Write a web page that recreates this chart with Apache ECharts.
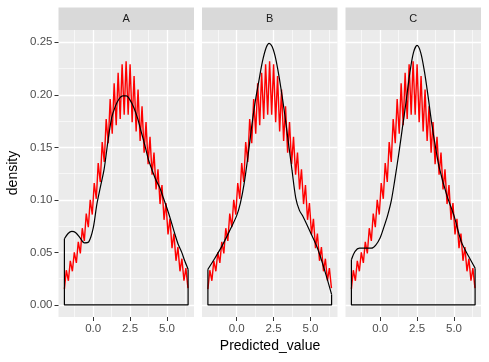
<!DOCTYPE html>
<html><head><meta charset="utf-8">
<script src="https://cdn.jsdelivr.net/npm/echarts@6/dist/echarts.min.js"></script>
<style>html,body{margin:0;padding:0;background:#fff}#c{width:489px;height:362px}</style>
</head><body><div id="c"></div>
<script>
const panels = ['A', 'B', 'C'];
const xTicks = [0, 2.5, 5];
const xTickLabels = ['0.0', '2.5', '5.0'];
const xMinor = [-1.25, 1.25, 3.75, 6.25];
const yTicks = [0, 0.05, 0.1, 0.15, 0.2, 0.25];
const yTickLabels = ['0.00', '0.05', '0.10', '0.15', '0.20', '0.25'];
const yMinor = [0.025, 0.075, 0.125, 0.175, 0.225];

// red zig-zag line (same in every panel)
const redX = [-1.95,-1.82,-1.68,-1.55,-1.41,-1.28,-1.14,-1.01,-0.87,-0.74,-0.60,-0.47,-0.33,-0.20,-0.06,0.07,0.21,0.34,0.48,0.61,0.75,0.88,1.02,1.15,1.29,1.42,1.56,1.69,1.83,1.96,2.10,2.23,2.37,2.50,2.64,2.77,2.91,3.04,3.18,3.31,3.45,3.58,3.72,3.85,3.99,4.12,4.26,4.39,4.53,4.66,4.80,4.93,5.07,5.20,5.34,5.47,5.61,5.74,5.88,6.01,6.15,6.28,6.42];
const redY = [0.015,0.033,0.023,0.042,0.032,0.050,0.040,0.060,0.049,0.073,0.061,0.087,0.074,0.100,0.086,0.116,0.101,0.135,0.117,0.155,0.136,0.177,0.154,0.196,0.163,0.211,0.171,0.221,0.177,0.229,0.181,0.232,0.181,0.229,0.174,0.218,0.165,0.205,0.156,0.189,0.145,0.174,0.134,0.160,0.124,0.145,0.110,0.129,0.096,0.114,0.081,0.097,0.067,0.082,0.054,0.068,0.042,0.055,0.032,0.044,0.023,0.035,0.016];

// black density curves
const densAX = [-1.95,-1.7,-1.45,-1.2,-0.9,-0.6,-0.3,0.0,0.25,0.5,0.75,1.0,1.25,1.5,1.75,2.0,2.25,2.5,2.75,3.0,3.25,3.5,3.75,4.0,4.25,4.5,4.75,5.0,5.25,5.5,5.75,6.0,6.2,6.43];
const densAY = [0.063,0.068,0.070,0.069,0.064,0.059,0.060,0.073,0.096,0.113,0.130,0.156,0.178,0.189,0.196,0.199,0.199,0.195,0.188,0.178,0.165,0.152,0.138,0.128,0.119,0.112,0.102,0.092,0.081,0.069,0.058,0.050,0.042,0.034];
const densBX = [-1.95,-1.5,-1.0,-0.5,0.0,0.25,0.5,0.75,1.0,1.25,1.5,1.75,2.0,2.2,2.4,2.6,2.8,3.0,3.25,3.5,3.75,4.0,4.25,4.5,5.0,5.5,6.0,6.43];
const densBY = [0.034,0.044,0.056,0.070,0.085,0.097,0.115,0.140,0.168,0.193,0.213,0.232,0.245,0.249,0.246,0.237,0.223,0.206,0.182,0.155,0.128,0.102,0.090,0.084,0.069,0.053,0.031,0.010];
const densCX = [-1.95,-1.7,-1.4,-1.0,-0.6,-0.3,0.0,0.25,0.5,0.75,1.0,1.25,1.5,1.75,2.0,2.25,2.5,2.75,3.0,3.25,3.5,3.75,4.0,4.5,5.0,5.5,6.0,6.43];
const densCY = [0.043,0.051,0.054,0.054,0.054,0.057,0.064,0.074,0.085,0.099,0.120,0.143,0.168,0.193,0.220,0.240,0.247,0.240,0.222,0.198,0.172,0.150,0.131,0.105,0.085,0.060,0.046,0.035];

const densX = [densAX, densBX, densCX];
const densY = [densAY, densBY, densCY];

const gridLeft = [58.5, 202, 345.5];
const gridW = 135.5, gridTop = 30, gridH = 287;
const xMin = -2.35, xMax = 6.83, yMin = -0.0115, yMax = 0.2617;
const FONT = 'Liberation Sans, Arial, sans-serif';

const grids = [], xAxes = [], yAxes = [], series = [], graphics = [];
panels.forEach((p, i) => {
  grids.push({left: gridLeft[i], top: gridTop, width: gridW, height: gridH, show: true,
    backgroundColor: '#EBEBEB', borderWidth: 0, containLabel: false});
  xAxes[i] = {gridIndex: i, type: 'value', min: xMin, max: xMax, position: 'bottom',
    axisLine: {show: false, onZero: false},
    axisTick: {show: true, length: 4, customValues: xTicks, lineStyle: {color: '#333333', width: 1}},
    axisLabel: {show: true, customValues: xTicks, margin: 6, color: '#4D4D4D', fontSize: 11.5, fontFamily: FONT,
      formatter: v => { const k = xTicks.indexOf(v); return k >= 0 ? xTickLabels[k] : ''; }},
    splitLine: {show: true, lineStyle: {color: '#FFFFFF', width: 1.3}}};
  xAxes[i + 3] = {gridIndex: i, type: 'value', min: xMin, max: xMax, position: 'bottom',
    axisLine: {show: false, onZero: false}, axisTick: {show: false, customValues: xMinor},
    axisLabel: {show: false, customValues: xMinor},
    splitLine: {show: true, lineStyle: {color: '#FFFFFF', width: 0.6}}};
  yAxes[i] = {gridIndex: i, type: 'value', min: yMin, max: yMax, position: 'left',
    axisLine: {show: false, onZero: false},
    axisTick: {show: i === 0, length: 4, customValues: yTicks, lineStyle: {color: '#333333', width: 1}},
    axisLabel: {show: i === 0, customValues: yTicks, margin: 6, color: '#4D4D4D', fontSize: 11.5, fontFamily: FONT,
      formatter: v => { const k = yTicks.indexOf(v); return k >= 0 ? yTickLabels[k] : ''; }},
    splitLine: {show: true, lineStyle: {color: '#FFFFFF', width: 1.3}}};
  yAxes[i + 3] = {gridIndex: i, type: 'value', min: yMin, max: yMax, position: 'left',
    axisLine: {show: false, onZero: false}, axisTick: {show: false, customValues: yMinor},
    axisLabel: {show: false, customValues: yMinor},
    splitLine: {show: true, lineStyle: {color: '#FFFFFF', width: 0.6}}};

  series.push({type: 'line', xAxisIndex: i, yAxisIndex: i, showSymbol: false, symbol: 'none',
    data: redX.map((x, k) => [x, redY[k]]), lineStyle: {color: '#FF0000', width: 1.4}, z: 3});
  const dx = densX[i], dy = densY[i], n = dx.length;
  series.push({type: 'line', xAxisIndex: i, yAxisIndex: i, showSymbol: false, symbol: 'none', smooth: 0.3,
    data: dx.map((x, k) => [x, dy[k]]), lineStyle: {color: '#000000', width: 1.2}, z: 4});
  series.push({type: 'line', xAxisIndex: i, yAxisIndex: i, showSymbol: false, symbol: 'none',
    data: [[dx[0], dy[0]], [dx[0], 0], [dx[n - 1], 0], [dx[n - 1], dy[n - 1]]],
    lineStyle: {color: '#000000', width: 1.2}, z: 4});

  graphics.push({type: 'rect', shape: {x: gridLeft[i], y: 7.5, width: gridW, height: 22.5},
    style: {fill: '#D9D9D9'}, silent: true});
  graphics.push({type: 'text', x: gridLeft[i] + gridW / 2, y: 19,
    style: {text: p, fill: '#1A1A1A', fontSize: 11, fontFamily: FONT, align: 'center', verticalAlign: 'middle'}});
});
graphics.push({type: 'text', x: 13, y: 173, rotation: Math.PI / 2,
  style: {text: 'density', fill: '#000000', fontSize: 14, fontFamily: FONT, align: 'center', verticalAlign: 'middle'}});
graphics.push({type: 'text', x: 270, y: 346,
  style: {text: 'Predicted_value', fill: '#000000', fontSize: 14, fontFamily: FONT, align: 'center', verticalAlign: 'middle'}});

const chart = echarts.init(document.getElementById('c'), null, {renderer: 'canvas'});
chart.setOption({animation: false, backgroundColor: '#FFFFFF',
  grid: grids, xAxis: xAxes, yAxis: yAxes, series: series, graphic: graphics});
</script></body></html>
